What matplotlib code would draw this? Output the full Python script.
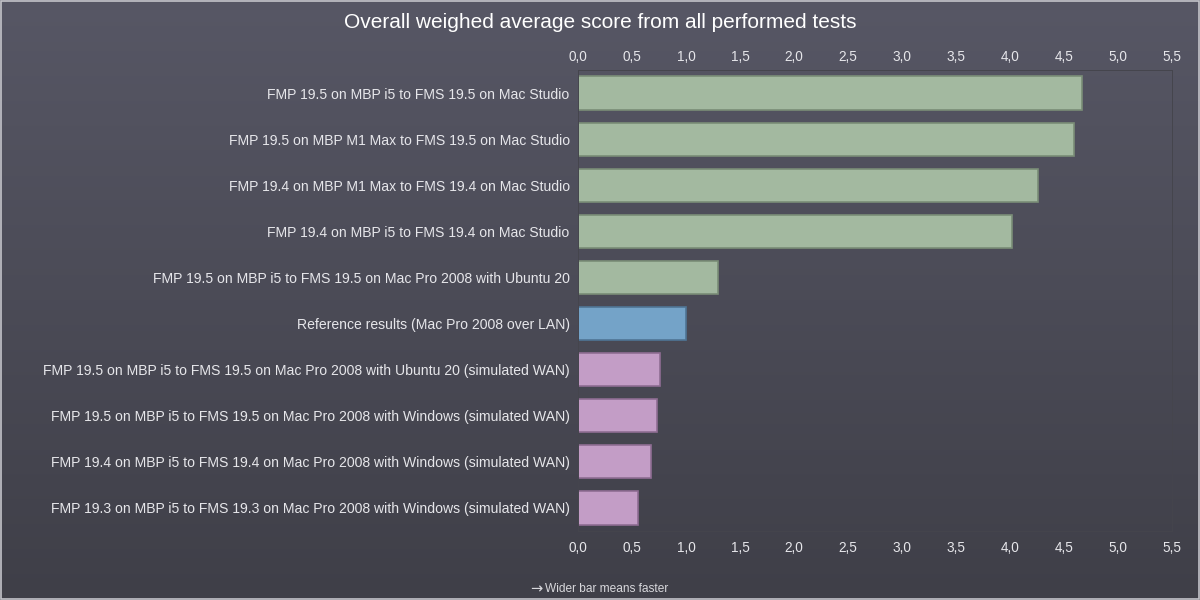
import numpy as np
import matplotlib
matplotlib.use("Agg")
import matplotlib.pyplot as plt
from matplotlib.colors import LinearSegmentedColormap
from matplotlib.ticker import FuncFormatter

# data
labels = [
    "FMP 19.5 on MBP i5 to FMS 19.5 on Mac Studio",
    "FMP 19.5 on MBP M1 Max to FMS 19.5 on Mac Studio",
    "FMP 19.4 on MBP M1 Max to FMS 19.4 on Mac Studio",
    "FMP 19.4 on MBP i5 to FMS 19.4 on Mac Studio",
    "FMP 19.5 on MBP i5 to FMS 19.5 on Mac Pro 2008 with Ubuntu 20",
    "Reference results (Mac Pro 2008 over LAN)",
    "FMP 19.5 on MBP i5 to FMS 19.5 on Mac Pro 2008 with Ubuntu 20 (simulated WAN)",
    "FMP 19.5 on MBP i5 to FMS 19.5 on Mac Pro 2008 with Windows (simulated WAN)",
    "FMP 19.4 on MBP i5 to FMS 19.4 on Mac Pro 2008 with Windows (simulated WAN)",
    "FMP 19.3 on MBP i5 to FMS 19.3 on Mac Pro 2008 with Windows (simulated WAN)",
]
scores = [4.67, 4.59, 4.26, 4.02, 1.30, 1.00, 0.76, 0.73, 0.68, 0.56]
groups = ["fast", "fast", "fast", "fast", "fast", "ref", "wan", "wan", "wan", "wan"]
xticks = [0, 0.5, 1, 1.5, 2, 2.5, 3, 3.5, 4, 4.5, 5, 5.5]

fills = {"fast": "#a3b9a0", "ref": "#74a3c8", "wan": "#c39dc6"}
edges = {"fast": "#7a8d77", "ref": "#4f7595", "wan": "#8f6d93"}
txt = "#e6e6ea"

plt.rcParams['font.family'] = ['Liberation Sans', 'DejaVu Sans']

fig = plt.figure(figsize=(12, 6), dpi=100)

# gradient background
bg = fig.add_axes([0, 0, 1, 1])
cmap = LinearSegmentedColormap.from_list("bg", ["#575765", "#3f3f48"])
bg.imshow(np.linspace(0, 1, 256).reshape(-1, 1), aspect="auto", cmap=cmap,
          extent=[0, 1, 0, 1])
bg.set_axis_off()
bg.add_patch(plt.Rectangle((0.0005, 0.001), 0.999, 0.998, fill=False,
                           edgecolor="#c4c4ca", lw=1.2, transform=bg.transAxes))

ax = fig.add_axes([0.4817, 0.115, 0.9765 - 0.4817, 0.8833 - 0.115])
ax.set_facecolor("none")

y = np.arange(len(labels))
for i in range(len(labels)):
    ax.barh(y[i], scores[i], height=0.72, color=fills[groups[i]],
            edgecolor=edges[groups[i]], linewidth=1.2)

fmt = FuncFormatter(lambda v, p: f"{v:.1f}".replace(".", ","))
ax.set_xlim(0, 5.5)
ax.set_ylim(len(labels) - 0.5, -0.5)
ax.set_yticks(y)
ax.set_yticklabels(labels, fontsize=10.1, color=txt)
ax.set_xticks(xticks)
ax.xaxis.set_major_formatter(fmt)
ax.tick_params(axis="x", length=0, pad=7.5, labelsize=9.8, labelcolor=txt)
ax.tick_params(axis="y", length=0, pad=6)
for s in ax.spines.values():
    s.set_color("#45454d")
    s.set_linewidth(0.7)

top = ax.twiny()
top.set_xlim(ax.get_xlim())
top.set_xticks(xticks)
top.xaxis.set_major_formatter(fmt)
top.tick_params(length=0, pad=4, labelsize=9.8, labelcolor=txt)
for s in top.spines.values():
    s.set_visible(False)

fig.text(0.5, 0.963, "Overall weighed average score from all performed tests",
         ha="center", va="center", fontsize=15, color="white")
fig.text(542 / 1200, 0.019, "\u2192", ha="right", va="center",
         fontsize=10.5, color="#d8d8dc", family=["DejaVu Sans"])
fig.text(545 / 1200, 0.018, "Wider bar means faster", ha="left", va="center",
         fontsize=8.6, color="#d8d8dc")

fig.savefig("out.png", dpi=100)
